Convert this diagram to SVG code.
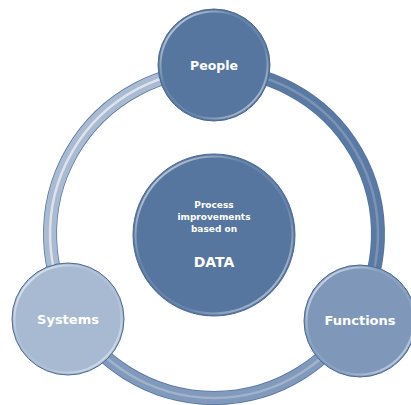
<svg xmlns="http://www.w3.org/2000/svg" width="411" height="405" viewBox="0 0 411 405">
  <defs>
    <linearGradient id="rim" x1="0" y1="0" x2="1" y2="1">
      <stop offset="0" stop-color="#ffffff" stop-opacity="0.85"/>
      <stop offset="0.35" stop-color="#ffffff" stop-opacity="0.1"/>
      <stop offset="0.65" stop-color="#ffffff" stop-opacity="0.1"/>
      <stop offset="1" stop-color="#ffffff" stop-opacity="0.7"/>
    </linearGradient>
    <style>
      .edge { fill: none; stroke-width: 14; stroke: #5473a0; }
      .band { fill: none; stroke-width: 12.5; }
      .shine { fill: none; stroke-width: 2.5; stroke: #ffffff; }
      .outline { stroke: #4a6994; stroke-width: 1; }
      .rim { fill: none; stroke: url(#rim); stroke-width: 2; }
      .lbl { font-family: "DejaVu Sans", Verdana, sans-serif; font-weight: bold; fill: #ffffff; text-anchor: middle; }
    </style>
  </defs>
  <rect width="411" height="405" fill="#ffffff"/>
  <g id="connectors">
    <path class="edge" d="M 72 316 A 164 164 0 0 1 214 70"/>
    <path class="band" stroke="#a9bad1" d="M 72 316 A 164 164 0 0 1 214 70"/>
    <path class="shine" stroke-opacity="0.6" d="M 72 316 A 164 164 0 0 1 214 70"/>
    <path class="edge" d="M 214 70 A 164 164 0 0 1 356 316"/>
    <path class="band" stroke="#5a79a3" d="M 214 70 A 164 164 0 0 1 356 316"/>
    <path class="shine" stroke-opacity="0.2" d="M 214 70 A 164 164 0 0 1 356 316"/>
    <path class="edge" d="M 356 316 A 164 164 0 0 1 72 316"/>
    <path class="band" stroke="#8199bb" d="M 356 316 A 164 164 0 0 1 72 316"/>
    <path class="shine" stroke-opacity="0.25" d="M 356 316 A 164 164 0 0 1 72 316"/>
  </g>
  <g id="center">
    <circle cx="214" cy="235" r="81" fill="#57769f" class="outline"/>
    <circle cx="214" cy="235" r="78.5" class="rim"/>
    <text class="lbl" font-size="9" x="214" y="207.5">Process</text>
    <text class="lbl" font-size="9" x="214" y="219.5">improvements</text>
    <text class="lbl" font-size="9" x="214" y="231.5">based on</text>
    <text class="lbl" font-size="14" x="214" y="266.5">DATA</text>
  </g>
  <g id="people">
    <circle cx="214" cy="65" r="56" fill="#57769f" class="outline"/>
    <circle cx="214" cy="65" r="53.5" class="rim"/>
    <text class="lbl" font-size="12.5" x="214" y="70">People</text>
  </g>
  <g id="systems">
    <circle cx="68" cy="319" r="56" fill="#a8bad1" class="outline"/>
    <circle cx="68" cy="319" r="53.5" class="rim"/>
    <text class="lbl" font-size="13" x="68" y="324">Systems</text>
  </g>
  <g id="functions">
    <circle cx="360" cy="321" r="56" fill="#7f98ba" class="outline"/>
    <circle cx="360" cy="321" r="53.5" class="rim"/>
    <text class="lbl" font-size="13" x="360" y="325">Functions</text>
  </g>
</svg>
